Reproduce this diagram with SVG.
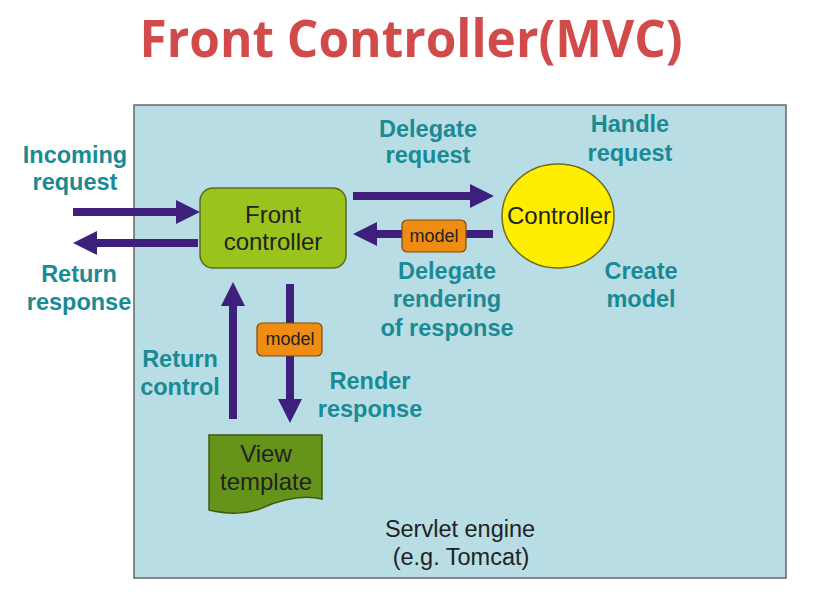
<svg xmlns="http://www.w3.org/2000/svg" width="819" height="601" viewBox="0 0 819 601">
<defs>
<style>
.lbl{font-family:"Liberation Sans",Arial,sans-serif;font-weight:bold;font-size:23.5px;fill:#1a8a95;text-anchor:middle}
.nt{font-family:"Liberation Sans",Arial,sans-serif;font-size:24px;fill:#222;text-anchor:middle}
.mt{font-family:"Liberation Sans",Arial,sans-serif;font-size:18px;fill:#222;text-anchor:middle}
.ar{stroke:#3e1f7c;stroke-width:8;fill:none}
.mdl{fill:#ef8c12;stroke:#7a4a10;stroke-width:1.2}
</style>
<marker id="head" markerUnits="userSpaceOnUse" markerWidth="24" markerHeight="24" refX="0" refY="12" orient="auto" viewBox="0 0 24 24">
<path d="M0,0 L24,12 L0,24 z" fill="#3e1f7c"/>
</marker>
</defs>
<rect width="819" height="601" fill="#ffffff"/>
<text x="411" y="57" font-family="'Open Sans','Liberation Sans',sans-serif" font-weight="bold" font-size="52" fill="#d24b4b" text-anchor="middle" textLength="543" lengthAdjust="spacingAndGlyphs">Front Controller(MVC)</text>
<g id="engine">
<rect x="134" y="105" width="652" height="473" fill="#b9dde5" stroke="#666" stroke-width="1.5"/>
<text x="460" y="537" font-family="'Liberation Sans',Arial,sans-serif" font-size="23.5" fill="#222" text-anchor="middle">Servlet engine</text>
<text x="461" y="565" font-family="'Liberation Sans',Arial,sans-serif" font-size="23.5" fill="#222" text-anchor="middle">(e.g. Tomcat)</text>
</g>
<g id="connectors">
<line class="ar" x1="73" y1="212" x2="176" y2="212" marker-end="url(#head)"/>
<line class="ar" x1="198" y1="243" x2="97" y2="243" marker-end="url(#head)"/>
<line class="ar" x1="353" y1="196" x2="470" y2="196" marker-end="url(#head)"/>
<line class="ar" x1="493" y1="234" x2="377" y2="234" marker-end="url(#head)"/>
<line class="ar" x1="233" y1="419" x2="233" y2="306" marker-end="url(#head)"/>
<line class="ar" x1="290" y1="284" x2="290" y2="399" marker-end="url(#head)"/>
</g>
<g id="front-controller">
<rect x="200" y="188" width="146" height="80" rx="13" fill="#9bc31d" stroke="#5b6b20" stroke-width="1.5"/>
<text class="nt" x="273" y="223">Front</text>
<text class="nt" x="273" y="250">controller</text>
</g>
<g id="controller">
<ellipse cx="558" cy="216" rx="56" ry="52" fill="#ffee00" stroke="#6b6b20" stroke-width="1.5"/>
<text class="nt" x="559" y="224">Controller</text>
</g>
<g id="model-h">
<rect class="mdl" x="402" y="220" width="64" height="32" rx="5"/>
<text class="mt" x="434" y="242">model</text>
</g>
<g id="model-v">
<rect class="mdl" x="257" y="323" width="65" height="33" rx="5"/>
<text class="mt" x="290" y="345">model</text>
</g>
<g id="view-template">
<path d="M209,435 L322,435 L322,499 C300,494 280,500 262,508 C245,515 226,514 209,510 Z" fill="#66941a" stroke="#3f5a10" stroke-width="1.5"/>
<text class="nt" x="266" y="462">View</text>
<text class="nt" x="266" y="490">template</text>
</g>
<g id="labels">
<text class="lbl" x="75" y="163">Incoming</text>
<text class="lbl" x="75" y="190">request</text>
<text class="lbl" x="79" y="282">Return</text>
<text class="lbl" x="79" y="310">response</text>
<text class="lbl" x="428" y="137">Delegate</text>
<text class="lbl" x="428" y="163">request</text>
<text class="lbl" x="630" y="132">Handle</text>
<text class="lbl" x="630" y="161">request</text>
<text class="lbl" x="447" y="279">Delegate</text>
<text class="lbl" x="447" y="307">rendering</text>
<text class="lbl" x="447" y="336">of response</text>
<text class="lbl" x="641" y="279">Create</text>
<text class="lbl" x="641" y="307">model</text>
<text class="lbl" x="180" y="367">Return</text>
<text class="lbl" x="180" y="395">control</text>
<text class="lbl" x="370" y="389">Render</text>
<text class="lbl" x="370" y="417">response</text>
</g>
</svg>
